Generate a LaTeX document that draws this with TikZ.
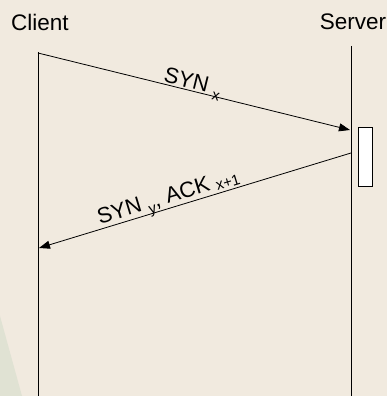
\documentclass[tikz,border=0pt]{standalone}
\usepackage{fontspec}
\setmainfont{Liberation Sans}
\usetikzlibrary{arrows.meta}

\definecolor{slidebg}{HTML}{F1EADF}
\definecolor{slideedge}{HTML}{E0E2D3}

\begin{document}
\begin{tikzpicture}[x = 1pt, y = 1pt]
\tikzstyle{partyStyle} = [font = \fontsize{22.5}{22.5}\selectfont, inner sep = 0pt]
\tikzstyle{lifeStyle} = [line width = 0.8pt]
\tikzstyle{msgStyle} = [line width = 0.8pt, -{Triangle[length = 11pt, width = 8pt]}]
\tikzstyle{msgLabelStyle} = [font = \fontsize{22}{22}\selectfont, sloped, anchor = south, inner sep = 1.5pt]
\tikzstyle{activeStyle} = [draw, fill = white, line width = 0.8pt, minimum width = 14pt, minimum height = 59pt, inner sep = 0pt]
\newcommand{\sub}[2][6pt]{\raisebox{-#1}[0pt][0pt]{\fontsize{15}{15}\selectfont #2}}
% background
\fill[slidebg] (0, 0) rectangle (387, 396);
\fill[slideedge] (0, 80) -- (22, 0) -- (0, 0) -- cycle;
\useasboundingbox (0, 0) rectangle (387, 396);
% parties
\node[partyStyle] (client) at (40, 374) {Client};
\node[partyStyle] (server) at (353, 374) {Server};
\coordinate (cTop) at (38, 344);
\coordinate (cBot) at (38, 0);
\coordinate (sTop) at (351, 350);
\coordinate (sBot) at (351, 0);
\draw[lifeStyle] (cTop) -- (cBot);
\draw[lifeStyle] (sTop) -- (sBot);
% server processing
\node[activeStyle] (proc) at (365, 239.5) {};
% messages
\coordinate (synFrom) at (38, 343);
\coordinate (synTo) at (350, 266);
\coordinate (ackFrom) at (351, 243);
\coordinate (ackTo) at (39, 148);
\draw[msgStyle] (synFrom) -- node[msgLabelStyle, pos = 0.49] {SYN \sub{x}} (synTo);
\draw[msgStyle] (ackFrom) -- node[msgLabelStyle, pos = 0.575] {SYN \sub[5pt]{y}, ACK \sub[2pt]{x+1}} (ackTo);
\end{tikzpicture}
\end{document}
